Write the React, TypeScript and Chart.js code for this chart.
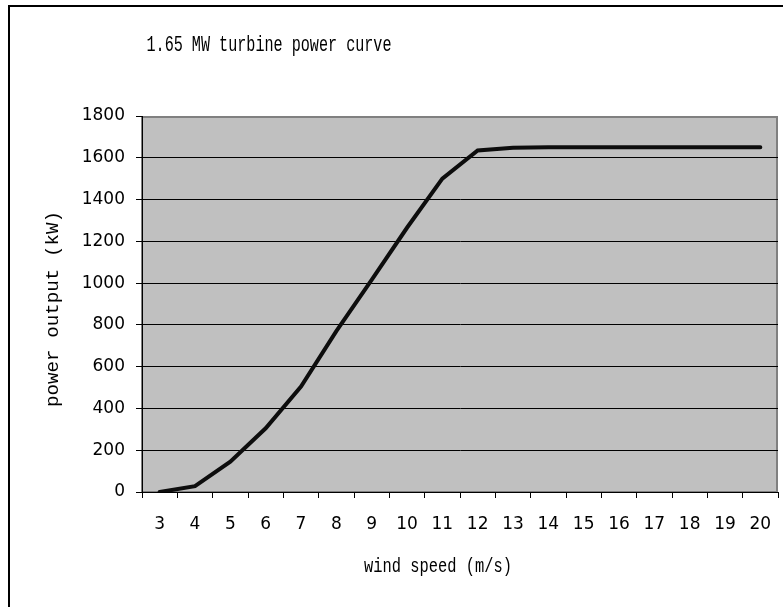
import React, { useEffect, useRef } from "react";
import { Chart, registerables } from "chart.js";

Chart.register(...registerables);

const windSpeeds: string[] = ["3", "4", "5", "6", "7", "8", "9", "10", "11", "12", "13", "14", "15", "16", "17", "18", "19", "20"];
const powerOutput: number[] = [0, 28, 145, 305, 505, 770, 1015, 1265, 1500, 1635, 1648, 1650, 1650, 1650, 1650, 1650, 1650, 1650];
const chartTitle = "1.65 MW turbine power curve";
const xTitle = "wind speed (m/s)";
const yTitle = "power output (kW)";
const yMin = 0;
const yMax = 1800;
const yStep = 200;

const MONO = "'Liberation Mono', 'DejaVu Sans Mono', monospace";
const SANS = "'DejaVu Sans', Verdana, sans-serif";

function drawScaledText(ctx: CanvasRenderingContext2D, text: string, x: number, y: number, size: number, targetWidth: number, rotate: boolean) {
  ctx.save();
  ctx.font = `${size}px ${MONO}`;
  const w = ctx.measureText(text).width;
  const sx = targetWidth / w;
  ctx.translate(x, y);
  if (rotate) ctx.rotate(-Math.PI / 2);
  ctx.scale(sx, 1);
  ctx.fillStyle = "#000000";
  ctx.textAlign = "center";
  ctx.textBaseline = "middle";
  ctx.fillText(text, 0, 0);
  ctx.restore();
}

const decorPlugin = {
  id: "decor",
  beforeDraw(chart: any) {
    const { ctx, chartArea } = chart;
    ctx.save();
    ctx.fillStyle = "#ffffff";
    ctx.fillRect(0, 0, chart.width, chart.height);
    ctx.strokeStyle = "#000000";
    ctx.lineWidth = 2;
    ctx.strokeRect(9, 6, chart.width + 50, chart.height + 50);
    ctx.fillStyle = "#c0c0c0";
    ctx.fillRect(chartArea.left, chartArea.top, chartArea.right - chartArea.left, chartArea.bottom - chartArea.top);
    ctx.strokeStyle = "#808080";
    ctx.lineWidth = 2;
    ctx.strokeRect(chartArea.left, chartArea.top + 1, chartArea.right - chartArea.left - 1, chartArea.bottom - chartArea.top - 1);
    ctx.restore();
  },
  afterDraw(chart: any) {
    const { ctx } = chart;
    drawScaledText(ctx, chartTitle, 269, 45, 22, 245, false);
    drawScaledText(ctx, xTitle, 438, 567, 20, 148, false);
    drawScaledText(ctx, yTitle, 53, 309, 18, 196, true);
  },
};

export default function App() {
  const canvasRef = useRef<HTMLCanvasElement | null>(null);

  useEffect(() => {
    if (!canvasRef.current) return;
    const chart = new Chart(canvasRef.current, {
      type: "line",
      data: {
        labels: windSpeeds,
        datasets: [
          {
            label: "power",
            data: powerOutput,
            borderColor: "#0d0d0d",
            borderWidth: 4,
            pointRadius: 0,
            tension: 0,
            borderCapStyle: "round",
            borderJoinStyle: "miter",
            fill: false,
          },
        ],
      },
      options: {
        responsive: false,
        animation: false,
        layout: { padding: { top: 116, right: 5, left: 0, bottom: 0 } },
        plugins: {
          legend: { display: false },
          title: { display: false },
          tooltip: { enabled: false },
        },
        scales: {
          x: {
            type: "category",
            offset: true,
            afterFit: (scale: any) => {
              scale.height = 115;
              scale.paddingRight = 0;
            },
            grid: {
              offset: true,
              drawOnChartArea: false,
              drawTicks: true,
              tickLength: 6,
              color: "#000000",
              tickColor: "#000000",
            },
            border: { display: true, color: "#000000", width: 1 },
            ticks: {
              color: "#000000",
              font: { family: SANS, size: 17 },
              padding: 16,
              maxRotation: 0,
              autoSkip: false,
            },
          },
          y: {
            min: yMin,
            max: yMax,
            afterFit: (scale: any) => {
              scale.width = 142;
            },
            grid: {
              drawTicks: true,
              tickLength: 6,
              color: (ctx: any) => (ctx.tick && ctx.tick.value === yMax ? "rgba(0,0,0,0)" : "#000000"),
              tickColor: "#000000",
              lineWidth: 1,
            },
            border: { display: true, color: "#000000", width: 1 },
            ticks: {
              stepSize: yStep,
              color: "#000000",
              font: { family: SANS, size: 17 },
              padding: 11,
              callback: (v: any) => String(v),
            },
          },
        },
      },
      plugins: [decorPlugin],
    });
    return () => chart.destroy();
  }, []);

  return (
    <div style={{ position: "absolute", left: 0, top: 0, width: 783, height: 607, background: "#fff" }}>
      <canvas ref={canvasRef} width={783} height={607} style={{ display: "block", width: 783, height: 607 }} />
    </div>
  );
}
